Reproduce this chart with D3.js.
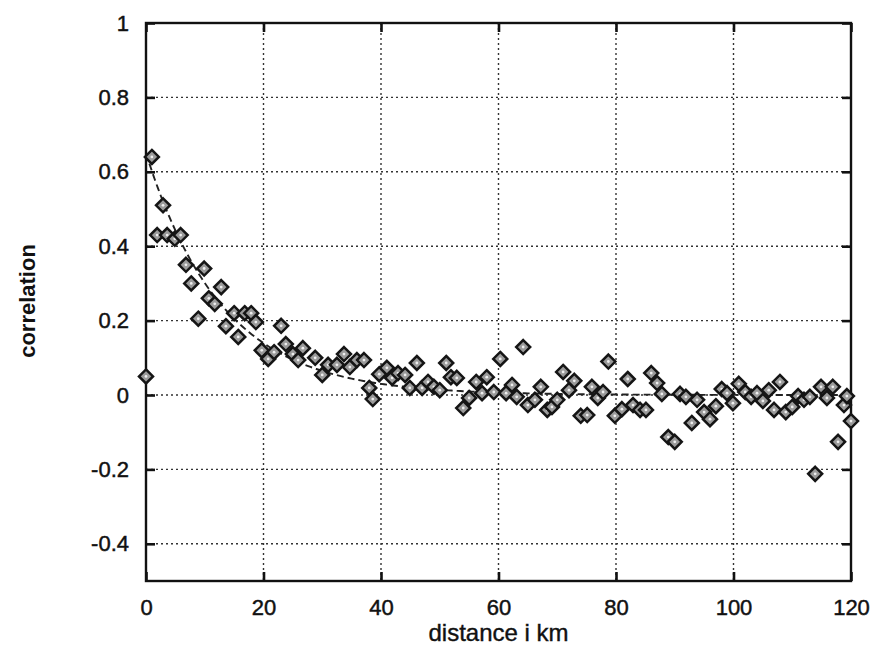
<!DOCTYPE html>
<html>
<head>
<meta charset="utf-8">
<script src="https://cdn.jsdelivr.net/npm/d3@7/dist/d3.min.js"></script>
<style>
  html, body { margin: 0; padding: 0; background: #fff; }
  svg { display: block; }
  text { font-family: "Liberation Sans", Arial, Helvetica, sans-serif; fill: #111; }
</style>
</head>
<body>
<svg id="chart" width="871" height="646"></svg>
<script>
// Distance between station pairs (km) and the measured correlation
const distances = [
  0, 1.0, 1.9, 2.9, 3.6, 4.9, 5.9, 6.8, 7.7, 8.9, 9.9, 10.7, 11.7, 12.8, 13.6,
  15.0, 15.7, 16.8, 17.9, 18.7, 19.7, 20.8, 21.8, 23.0, 23.8, 25.0, 25.9, 26.7,
  28.8, 30.0, 31.0, 32.5, 33.7, 34.7, 35.9, 37.1, 38.0, 38.6, 39.7, 41.0, 41.9,
  42.9, 44.1, 44.9, 46.1, 47.0, 48.0, 49.0, 50.0, 51.1, 51.9, 52.9, 54.0, 55.0,
  56.2, 57.2, 58.0, 59.2, 60.3, 61.3, 62.3, 63.1, 64.2, 65.0, 66.2, 67.2, 68.3,
  69.1, 70.0, 71.0, 72.0, 72.9, 74.0, 75.1, 75.9, 76.9, 77.8, 78.7, 79.8, 81.0,
  82.0, 82.9, 84.1, 85.1, 86.0, 87.0, 87.8, 88.9, 90.0, 90.9, 91.9, 92.9, 93.8,
  95.0, 96.0, 97.0, 98.0, 98.9, 99.9, 100.9, 102.0, 103.0, 104.0, 105.0, 106.0,
  106.9, 107.9, 108.9, 110.0, 111.0, 112.0, 113.0, 113.9, 114.9, 115.9, 116.9,
  117.8, 118.8, 119.3, 120.0
];
const correlations = [
  0.05, 0.64, 0.43, 0.51, 0.43, 0.42, 0.43, 0.35, 0.30, 0.205, 0.34, 0.26, 0.245, 0.29, 0.185,
  0.22, 0.156, 0.22, 0.22, 0.196, 0.12, 0.097, 0.115, 0.186, 0.137, 0.11, 0.094, 0.126,
  0.10, 0.054, 0.081, 0.081, 0.11, 0.075, 0.094, 0.094, 0.019, -0.011, 0.056, 0.073, 0.046,
  0.059, 0.054, 0.019, 0.086, 0.019, 0.035, 0.022, 0.013, 0.086, 0.048, 0.046, -0.035, -0.008,
  0.035, 0.005, 0.048, 0.008, 0.097, 0.005, 0.027, -0.005, 0.129, -0.027, -0.013, 0.022, -0.04,
  -0.032, -0.013, 0.062, 0.013, 0.038, -0.056, -0.054, 0.022, -0.008, 0.008, 0.09, -0.056, -0.038,
  0.043, -0.027, -0.04, -0.04, 0.059, 0.032, 0.003, -0.113, -0.126, 0.003, -0.005, -0.075, -0.013,
  -0.046, -0.065, -0.03, 0.016, 0.005, -0.022, 0.03, 0.008, -0.005, 0.005, -0.016, 0.013,
  -0.04, 0.035, -0.046, -0.032, -0.003, -0.013, -0.005, -0.212, 0.022, -0.008, 0.022,
  -0.126, -0.027, -0.003, -0.07
];

// Fitted exponential decay: r(d) = amplitude * exp(-d / length)
const fitAmplitude = 0.65;
const fitLength = 13;
const fitDistances = d3.range(0, 120.5, 0.5);

const xTicks = [0, 20, 40, 60, 80, 100, 120];
const yTicks = [-0.4, -0.2, 0, 0.2, 0.4, 0.6, 0.8, 1];
const yTickLabels = ["-0.4", "-0.2", "0", "0.2", "0.4", "0.6", "0.8", "1"];

const svg = d3.select("#chart");
const plotL = 146, plotR = 851, plotT = 23, plotB = 581;

const x = d3.scaleLinear().domain([0, 120]).range([plotL, plotR]);
const y = d3.scaleLinear().domain([-0.5, 1]).range([plotB, plotT]);

// dotted grid
const grid = svg.append("g").attr("stroke", "#333").attr("stroke-width", 1.4)
  .attr("stroke-dasharray", "2,3").attr("fill", "none");
xTicks.slice(1, -1).forEach(t => {
  grid.append("line").attr("x1", x(t)).attr("x2", x(t)).attr("y1", plotT).attr("y2", plotB);
});
yTicks.filter(t => t !== 1).forEach(t => {
  grid.append("line").attr("x1", plotL).attr("x2", plotR).attr("y1", y(t)).attr("y2", y(t));
});

// fitted curve
const line = d3.line().x(d => x(d)).y(d => y(fitAmplitude * Math.exp(-d / fitLength)));
svg.append("path").datum(fitDistances).attr("d", line)
  .attr("fill", "none").attr("stroke", "#222").attr("stroke-width", 1.9)
  .attr("stroke-dasharray", "7,4");

// axes with inward ticks
const axL = d3.axisLeft(y).tickValues(yTicks).tickSizeInner(-9).tickSizeOuter(0)
  .tickFormat((d, i) => yTickLabels[i]).tickPadding(17);
const axR = d3.axisRight(y).tickValues(yTicks).tickSizeInner(-9).tickSizeOuter(0).tickFormat("");
const axB = d3.axisBottom(x).tickValues(xTicks).tickSizeInner(-9).tickSizeOuter(0).tickPadding(18);
const axT = d3.axisTop(x).tickValues(xTicks).tickSizeInner(-9).tickSizeOuter(0).tickFormat("");

function styleAxis(g) {
  g.select(".domain").remove();
  g.selectAll(".tick line").attr("stroke", "#111").attr("stroke-width", 2.6);
  g.selectAll(".tick text").attr("font-size", 22).attr("fill", "#111")
    .attr("stroke", "#111").attr("stroke-width", 0.45)
    .style("font-family", "'Liberation Sans', Arial, sans-serif");
}
svg.append("g").attr("transform", `translate(${plotL},0)`).call(axL).call(styleAxis);
svg.append("g").attr("transform", `translate(${plotR},0)`).call(axR).call(styleAxis);
svg.append("g").attr("transform", `translate(0,${plotB})`).call(axB).call(styleAxis);
svg.append("g").attr("transform", `translate(0,${plotT})`).call(axT).call(styleAxis);

// frame
svg.append("rect").attr("x", plotL).attr("y", plotT)
  .attr("width", plotR - plotL).attr("height", plotB - plotT)
  .attr("fill", "none").attr("stroke", "#111").attr("stroke-width", 2.4);

// diamond markers
const pts = distances.map((d, i) => ({ d, r: correlations[i] }));
const s = 7;
const diamond = `M0,${-s}L${s},0L0,${s}L${-s},0Z`;
const mk = svg.append("g").selectAll("g").data(pts).join("g")
  .attr("transform", p => `translate(${x(p.d)},${y(p.r)})`);
mk.append("path").attr("d", diamond)
  .attr("fill", "#9a9a9a").attr("stroke", "#151515").attr("stroke-width", 2.5);
mk.append("circle").attr("r", 1.4).attr("fill", "#eee");

// axis titles
svg.append("text").attr("x", (plotL + plotR) / 2).attr("y", 641)
  .attr("text-anchor", "middle").attr("font-size", 24)
  .attr("stroke", "#111").attr("stroke-width", 0.4).text("distance i km");
svg.append("text").attr("transform", "translate(35,301) rotate(-90)")
  .attr("text-anchor", "middle").attr("font-size", 22).attr("font-weight", "bold")
  .text("correlation");
</script>
</body>
</html>
